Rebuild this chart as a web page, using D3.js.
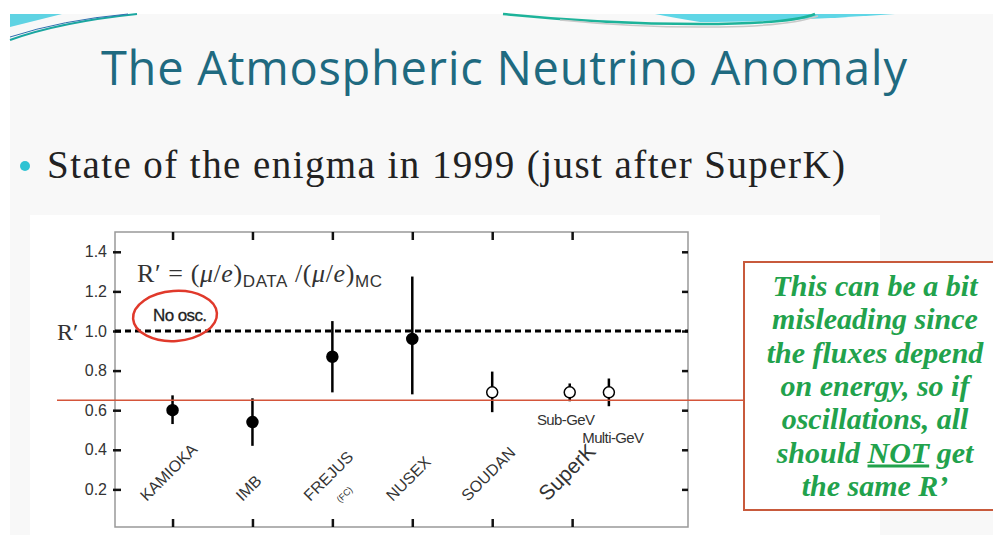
<!DOCTYPE html>
<html>
<head>
<meta charset="utf-8">
<script src="https://cdn.jsdelivr.net/npm/d3@7"></script>
<style>
  html, body { margin: 0; padding: 0; background: #fff; }
  svg { display: block; }
</style>
</head>
<body>
<svg id="slide" width="993" height="535"></svg>
<script>
// experiments along the x axis
var experiments = ["KAMIOKA", "IMB", "FREJUS", "NUSEX", "SOUDAN", "SuperK"];

// measured R' with error bars (SuperK has two: sub-GeV, multi-GeV)
var pointPos   = [0, 1, 2, 3, 4, 4.97, 5.46];
var pointValue = [0.60, 0.54, 0.87, 0.96, 0.69, 0.69, 0.69];
var pointLow   = [0.53, 0.42, 0.69, 0.68, 0.59, 0.645, 0.62];
var pointHigh  = [0.675, 0.66, 1.05, 1.275, 0.795, 0.735, 0.76];
var pointOpen  = [false, false, false, false, true, true, true];
var pointNote  = ["", "", "", "", "", "Sub-GeV", "Multi-GeV"];

var yTicks = [0.2, 0.4, 0.6, 0.8, 1.0, 1.2, 1.4];
var noOscValue = 1.0;
var markerLine = 0.65;

var boxLines = [
  "This can be a bit",
  "misleading since",
  "the fluxes depend",
  "on energy, so if",
  "oscillations, all",
  "should |NOT| get",
  "the same R\u2019"
];

var svg = d3.select("#slide");

// slide background
svg.append("rect").attr("x", 10).attr("y", 14).attr("width", 983).attr("height", 521)
    .attr("fill", "#f8f8f8");

// top decorations
var deco = svg.append("g");
deco.append("path").attr("d", "M10,14 L62,14 L10,27 Z").attr("fill", "#5fd3e3");
deco.append("path").attr("d", "M10,40 Q60,22 137,14").attr("fill", "none").attr("stroke", "#1aa6a0").attr("stroke-width", 2);
deco.append("path").attr("d", "M10,37 Q62,20 128,14").attr("fill", "none").attr("stroke", "#2f6fb0").attr("stroke-width", 1);
deco.append("path").attr("d", "M655,14 L895,14 Q780,22 700,22 Q675,18 655,14 Z").attr("fill", "#5fd6e6");
deco.append("path").attr("d", "M503,14 Q600,24 700,24 Q790,24 815,14").attr("fill", "none").attr("stroke", "#1db39a").attr("stroke-width", 2.5);
deco.append("path").attr("d", "M560,20 Q640,28 720,27 Q790,26 818,16").attr("fill", "none").attr("stroke", "#c9c9c9").attr("stroke-width", 1.5);

// title and bullet
svg.append("text").attr("x", 504).attr("y", 85).attr("text-anchor", "middle")
    .attr("font-family", "'Open Sans', sans-serif").attr("font-size", 47)
    .attr("fill", "#1f6a80").attr("textLength", 806).attr("lengthAdjust", "spacing")
    .text("The Atmospheric Neutrino Anomaly");
svg.append("circle").attr("cx", 25).attr("cy", 166).attr("r", 5).attr("fill", "#2fc3d3");
svg.append("text").attr("x", 47).attr("y", 178)
    .attr("font-family", "'Liberation Serif', serif").attr("font-size", 39)
    .attr("fill", "#222").attr("textLength", 798).attr("lengthAdjust", "spacing")
    .text("State of the enigma in 1999 (just after SuperK)");

// white figure area
svg.append("rect").attr("x", 30).attr("y", 215).attr("width", 850).attr("height", 320).attr("fill", "#fff");

var plotLeft = 115, plotRight = 688, plotTop = 232, plotBottom = 527;
var x = d3.scaleLinear().domain([-0.72, 6.45]).range([plotLeft, plotRight]);
var y = d3.scaleLinear().domain([0.01, 1.5]).range([plotBottom, plotTop]);

var plot = svg.append("g");

// frame
plot.append("rect").attr("x", plotLeft).attr("y", plotTop)
    .attr("width", plotRight - plotLeft).attr("height", plotBottom - plotTop)
    .attr("fill", "none").attr("stroke", "#999").attr("stroke-width", 1.5);

// axes (ticks only, inward)
var tickIdx = d3.range(experiments.length);
var axL = plot.append("g").attr("transform", "translate(" + plotLeft + ",0)")
    .call(d3.axisLeft(y).tickValues(yTicks).tickSize(-6).tickPadding(8).tickFormat(d3.format(".1f")));
var axR = plot.append("g").attr("transform", "translate(" + plotRight + ",0)")
    .call(d3.axisRight(y).tickValues(yTicks).tickSize(-6).tickFormat(""));
var axT = plot.append("g").attr("transform", "translate(0," + plotTop + ")")
    .call(d3.axisTop(x).tickValues(tickIdx).tickSize(-8).tickFormat(""));
var axB = plot.append("g").attr("transform", "translate(0," + plotBottom + ")")
    .call(d3.axisBottom(x).tickValues(tickIdx).tickSize(-8).tickFormat(""));
[axL, axR, axT, axB].forEach(function(a) {
  a.select(".domain").remove();
  a.selectAll(".tick line").attr("stroke", "#111").attr("stroke-width", 2.5);
});
axL.selectAll(".tick line").attr("x1", -2);
axL.selectAll(".tick text").attr("font-family", "'Liberation Sans', sans-serif")
    .attr("font-size", 16).attr("fill", "#333");

// R' axis label
plot.append("text").attr("x", 57).attr("y", 340)
    .attr("font-family", "'Liberation Serif', serif").attr("font-size", 24).attr("fill", "#333")
    .text("R\u2032");

// no oscillation reference
plot.append("line").attr("x1", plotLeft).attr("x2", plotRight)
    .attr("y1", y(noOscValue)).attr("y2", y(noOscValue))
    .attr("stroke", "#000").attr("stroke-width", 3).attr("stroke-dasharray", "6,4");

// formula
var eq = plot.append("text").attr("x", 137).attr("y", 282)
    .attr("font-family", "'Liberation Serif', serif").attr("font-size", 26).attr("fill", "#333");
eq.append("tspan").text("R\u2032 = (");
eq.append("tspan").attr("font-style", "italic").text("\u03bc");
eq.append("tspan").text("/");
eq.append("tspan").attr("font-style", "italic").text("e");
eq.append("tspan").text(")");
eq.append("tspan").attr("font-family", "'Liberation Sans', sans-serif").attr("font-size", 17).attr("dy", 5).text("DATA");
eq.append("tspan").attr("dy", -5).text(" /(");
eq.append("tspan").attr("font-style", "italic").text("\u03bc");
eq.append("tspan").text("/");
eq.append("tspan").attr("font-style", "italic").text("e");
eq.append("tspan").text(")");
eq.append("tspan").attr("font-family", "'Liberation Sans', sans-serif").attr("font-size", 17).attr("dy", 5).text("MC");
eq.attr("textLength", 245).attr("lengthAdjust", "spacing");

plot.append("text").attr("x", 153).attr("y", 321)
    .attr("font-family", "'Liberation Sans', sans-serif").attr("font-size", 17).attr("fill", "#222")
    .attr("letter-spacing", -0.6).attr("stroke", "#222").attr("stroke-width", 0.3).text("No osc.");
plot.append("ellipse").attr("cx", 175).attr("cy", 316).attr("rx", 42).attr("ry", 25)
    .attr("transform", "rotate(-4,175,316)")
    .attr("fill", "none").attr("stroke", "#e0392b").attr("stroke-width", 2.5);

// experiment labels, rotated
var labelBase = 502;
var labels = plot.append("g").selectAll("g").data(experiments).enter().append("g");
labels.each(function(d, i) {
  var g = d3.select(this);
  var t = g.append("text").attr("font-family", "'Liberation Sans', sans-serif")
      .attr("font-size", d === "SuperK" ? 21 : 16).attr("fill", "#333").text(d);
  var len = t.node().getComputedTextLength();
  var half = len * Math.SQRT1_2 / 2;
  var sx = x(i) - half, sy = labelBase;
  t.attr("transform", "translate(" + sx + "," + sy + ") rotate(-45)");
  if (d === "FREJUS") {
    g.append("text").attr("font-family", "'Liberation Sans', sans-serif").attr("font-size", 9)
        .attr("fill", "#333").attr("transform", "translate(" + (sx + 30) + "," + (sy + 1) + ") rotate(-45)")
        .text("(FC)");
  }
});

// error bars and points
var pts = d3.range(pointPos.length);
plot.append("g").selectAll("line").data(pts).enter().append("line")
    .attr("x1", function(i) { return x(pointPos[i]); })
    .attr("x2", function(i) { return x(pointPos[i]); })
    .attr("y1", function(i) { return y(pointLow[i]); })
    .attr("y2", function(i) { return y(pointHigh[i]); })
    .attr("stroke", "#000").attr("stroke-width", 2.5);

// red reference line across to the box
svg.append("line").attr("x1", 57).attr("x2", 744).attr("y1", y(markerLine)).attr("y2", y(markerLine))
    .attr("stroke", "#d4553a").attr("stroke-width", 1.5);

svg.append("g").selectAll("circle").data(pts).enter().append("circle")
    .attr("cx", function(i) { return x(pointPos[i]); })
    .attr("cy", function(i) { return y(pointValue[i]); })
    .attr("r", 5.5)
    .attr("fill", function(i) { return pointOpen[i] ? "#fff" : "#000"; })
    .attr("stroke", "#000").attr("stroke-width", 1.5);

svg.append("g").selectAll("text").data(pts.filter(function(i) { return pointNote[i]; })).enter().append("text")
    .attr("x", function(i) { return x(pointPos[i]) + (i === 5 ? -4 : 4); })
    .attr("y", function(i) { return i === 5 ? 425 : 443; })
    .attr("text-anchor", "middle")
    .attr("font-family", "'Liberation Sans', sans-serif").attr("font-size", 15)
    .attr("letter-spacing", -0.6).attr("fill", "#333")
    .text(function(i) { return pointNote[i]; });

// comment box
svg.append("rect").attr("x", 744).attr("y", 262).attr("width", 260).attr("height", 248)
    .attr("fill", "#fff").attr("stroke", "#c85a3c").attr("stroke-width", 2);
var box = svg.append("g");
boxLines.forEach(function(line, k) {
  var t = box.append("text").attr("x", 875).attr("y", 296 + k * 33.3).attr("text-anchor", "middle")
      .attr("font-family", "'Liberation Serif', serif").attr("font-style", "italic").attr("font-weight", "bold")
      .attr("font-size", 30).attr("fill", "#22a24c");
  line.split("|").forEach(function(part, j) {
    var s = t.append("tspan").text(part);
    if (j === 1) s.attr("text-decoration", "underline");
  });
});
</script>
</body>
</html>
